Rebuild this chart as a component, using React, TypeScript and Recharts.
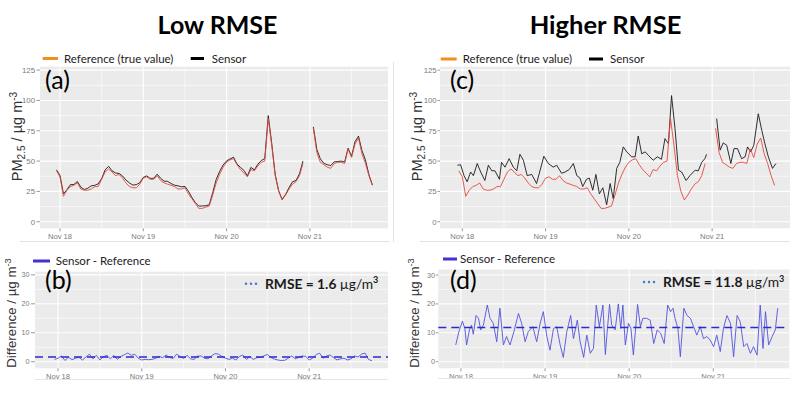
import React from 'react';
import { LineChart, Line, XAxis, YAxis, CartesianGrid, ReferenceLine } from 'recharts';

// ---------- data ----------
const hours = Array.from({ length: 92 }, (_, i) => i - 1); // hours since Nov 18 00:00
const dayTicks = [0, 24, 48, 72];
const dayLabels = ['Nov 18', 'Nov 19', 'Nov 20', 'Nov 21'];
const halfDayTicks = [12, 36, 60, 84];
const pmTicks = [0, 25, 50, 75, 100, 125];
const pmMinor = [12.5, 37.5, 62.5, 87.5, 112.5];
const diffTicks = [0, 10, 20, 30];
const diffMinor = [5, 15, 25];

const reference = [
  42, 37, 21, 26, 29, 30, 32, 27, 26, 26,
  27, 29, 29, 35, 41, 43.5, 41, 38, 39, 36,
  32, 29, 28, 28, 31, 36, 37, 35, 35, 38,
  34, 32, 31, 30, 29, 27, 27, 28, 23, 19,
  15, 11, 11, 12, 13, 22, 32, 39, 45, 49,
  51, 52, 47, 43, 40, 37, 43, 42, 46, 49,
  50, 85, 63, 38, 25, 18, 22, 27, 31, 33,
  38, 48, null, null, 77, 57, 49, 47, 45, 44,
  48, 49, 49, 48, 60, 53, 64, 69, 56, 48,
  38, 30,
];

const sensorLow = [
  42.8, 38.2, 23.0, 26.4, 30.6, 30.7, 33.2, 28.5, 26.6, 27.6,
  29.6, 30.0, 31.2, 35.6, 42.7, 45.7, 42.0, 40.2, 39.8, 37.8,
  34.4, 32.0, 30.2, 30.6, 32.2, 36.6, 37.8, 35.7, 35.8, 39.2,
  35.8, 33.4, 33.3, 31.5, 30.1, 29.6, 28.8, 29.1, 25.2, 20.0,
  15.8, 12.9, 13.0, 13.2, 14.0, 24.0, 34.8, 41.6, 46.8, 50.2,
  51.8, 53.2, 47.6, 44.8, 42.3, 37.8, 44.8, 42.8, 47.4, 50.5,
  52.0, 87.5, 64.5, 38.9, 25.6, 18.4, 22.5, 28.2, 33.0, 34.0,
  39.5, 50.0, null, null, 78.2, 59.5, 51.9, 48.2, 47.0, 46.3,
  49.4, 49.6, 50.0, 49.2, 60.6, 54.0, 66.0, 70.6, 58.6, 51.0,
  38.8, 30.3,
];

const diffLow = [
  0.8, 1.2, 2.0, 0.4, 1.6, 0.7, 1.2, 1.5, 0.6, 1.6,
  2.6, 1.0, 2.2, 0.6, 1.7, 2.2, 1.0, 2.2, 0.8, 1.8,
  2.4, 3.0, 2.2, 2.6, 1.2, 0.6, 0.8, 0.7, 0.8, 1.2,
  1.8, 1.4, 2.3, 1.5, 1.1, 2.6, 1.8, 1.1, 2.2, 1.0,
  0.8, 1.9, 2.0, 1.2, 1.0, 2.0, 2.8, 2.6, 1.8, 1.2,
  0.8, 1.2, 0.6, 1.8, 2.3, 0.8, 1.8, 0.8, 1.4, 1.5,
  2.0, 2.5, 1.5, 0.9, 0.6, 0.4, 0.5, 1.2, 2.0, 1.0,
  1.5, 2.0, 1.8, 0.6, 1.2, 2.5, 2.9, 1.2, 2.0, 2.3,
  1.4, 0.6, 1.0, 1.2, 0.6, 1.0, 2.0, 1.6, 2.6, 3.0,
  0.8, 0.3,
];

const sensorHighTimes = [
  -1.4, -0.5, 0.5, 1.4, 2.4, 3.2, 4.3, 5.3, 6.5, 7.5,
  8.5, 9.4, 10.7, 11.3, 12.3, 13.5, 14.7, 15.7, 16.6, 17.6,
  18.7, 20.0, 21.4, 23.5, 24.8, 26.2, 27.2, 28.6, 29.6, 30.8,
  32.0, 33.0, 33.9, 34.7, 35.8, 36.6, 37.6, 38.5, 39.5, 40.5,
  41.6, 42.6, 43.5, 44.5, 45.4, 46.4, 47.4, 48.8, 49.8, 50.7,
  51.7, 52.7, 53.6, 55.0, 56.2, 57.4, 58.4, 59.4, 60.3, 61.3,
  62.3, 63.2, 64.5, 65.6, 67.1, 68.0, 69.0, 69.9, 70.4, 71.8,
  73.3, 74.3, 75.2, 76.2, 77.4, 78.3, 79.3, 80.5, 81.5, 82.2,
  83.1, 84.0, 85.3, 86.3, 87.2, 88.2, 89.4, 90.4,
];
const sensorHighValues = [
  46.6, 47, 38, 33, 41, 38, 48, 41, 34, 46.6,
  42, 42, 35, 49, 45, 52, 45, 42, 55.6, 50.7,
  38, 39, 31.5, 54, 48, 45, 46.6, 40, 41, 43,
  48, 38, 36, 29, 35, 36, 26, 39, 23, 28,
  14, 31.5, 19, 44, 49, 61.7, 57.6, 53.5, 53.5, 70.7,
  56, 57.6, 54.8, 50.7, 53.5, 51.5, 68.5, 64.4, 104, 76.8,
  42.5, 41, 34, 38, 42.5, 42, 49, 52, 55.6, null,
  85, 59, 65, 63, 48, 60.3, 60.3, 52, 53.5, 61.7,
  57.6, 63, 89, 75.4, 64.4, 53.5, 44, 48,
];

const diffHighTimes = [
  -1.5, -0.6, 0.4, 1.1, 1.6, 2.4, 3.0, 3.5, 4.3, 5.0,
  5.6, 6.4, 7.5, 8.3, 9.2, 10.2, 11.1, 12.1, 13.0, 14.0,
  15.1, 16.4, 17.3, 18.3, 19.2, 20.5, 21.6, 22.6, 23.5, 24.5,
  25.4, 26.4, 27.3, 28.3, 29.2, 30.2, 31.3, 32.1, 33.2, 34.0,
  35.0, 35.9, 36.9, 37.8, 38.6, 39.5, 40.5, 41.2, 41.8, 42.4,
  43.0, 44.0, 44.9, 45.6, 46.2, 46.9, 47.8, 48.5, 49.2, 50.4,
  51.2, 51.9, 53.0, 54.0, 55.0, 56.0, 57.0, 58.0, 59.0, 59.8,
  60.5, 61.1, 61.9, 62.6, 63.6, 64.5, 65.5, 66.2, 67.3, 68.3,
  69.2, 70.2, 71.1, 72.1, 73.0, 74.0, 74.9, 75.9, 76.9, 77.8,
  78.8, 79.7, 80.7, 81.6, 82.6, 83.5, 84.5, 85.4, 86.2, 86.9,
  87.8, 88.8, 89.7, 90.4,
];
const diffHighValues = [
  5.8, 10.4, 14, 11.5, 5.8, 11, 12.7, 9.5, 16, 15,
  11, 12.7, 19.6, 15, 13.3, 6.9, 18.5, 5.8, 8.7, 5.8,
  10.4, 16.7, 13.3, 6.9, 10.4, 12.1, 6.9, 13.3, 17.3, 8.7,
  4, 11.5, 12.1, 5.8, 1.5, 10.4, 16, 8, 14.4, 6.9,
  1.5, 9.2, 2.9, 4.6, 19.6, 12.1, 19.6, 2.5, 11.5, 19.8,
  12.7, 11, 20, 11.5, 19.6, 5.8, 13.3, 11.5, 2.3, 19.8,
  12.1, 15, 15, 14.4, 6.3, 11, 9.8, 6.3, 19.6, 17.3,
  18.5, 15, 11.5, 1.7, 18.5, 16, 15, 12.7, 9.2, 12.1,
  8, 8.7, 7.5, 5.2, 9.2, 3.5, 11.5, 16, 13.3, 1.7,
  16, 13.8, 5.2, 6.3, 2.9, 5.2, 2.3, 19.6, 4.6, 17.3,
  5.8, 8.7, 11, 18.5,
];

const rmseLow = 1.6;
const rmseHigh = 11.8;

// ---------- helpers ----------
const pts = (ts: number[], vs: (number | null)[]) => ts.map((t, i) => ({ t, v: vs[i] }));
const refData = pts(hours, reference);
const sensorLowData = pts(hours, sensorLow);
const diffLowData = pts(hours, diffLow);
const sensorHighData = pts(sensorHighTimes, sensorHighValues);
const diffHighData = pts(diffHighTimes, diffHighValues);

const C_REF = '#e8473f';
const C_SENSOR = '#1a1a1a';
const C_DIFF = '#5252dc';
const C_DASH = '#2a2ad0';
const TICK_FONT = 'Liberation Sans, Arial, sans-serif';

type PanelProps = {
  left: number; top: number; width: number; height: number;
  mTop: number; mRight: number; yWidth: number; plotH: number;
  xDomain: [number, number]; yDomain: [number, number];
  yMajor: number[]; yMinor: number[];
  tickSizeY: number; tickMarginY: number; yFont: number;
  children: React.ReactNode;
};

function Panel(p: PanelProps) {
  const xh = p.height - p.mTop - p.plotH;
  return (
    <div style={{ position: 'absolute', left: p.left, top: p.top, width: p.width, height: p.height }}>
      <LineChart width={p.width} height={p.height} margin={{ top: p.mTop, right: p.mRight, bottom: 0, left: 0 }}>
        <CartesianGrid fill="#EBEBEB" fillOpacity={1} stroke="none" horizontal={false} vertical={false} />
        {p.yMinor.map((v) => (
          <ReferenceLine key={'ym' + v} y={v} stroke="#ffffff" strokeWidth={0.6} />
        ))}
        {halfDayTicks.map((v) => (
          <ReferenceLine key={'xm' + v} x={v} stroke="#ffffff" strokeWidth={0.6} />
        ))}
        {p.yMajor.map((v) => (
          <ReferenceLine key={'yM' + v} y={v} stroke="#ffffff" strokeWidth={1.1} />
        ))}
        {dayTicks.map((v) => (
          <ReferenceLine key={'xM' + v} x={v} stroke="#ffffff" strokeWidth={1.1} />
        ))}
        <XAxis
          type="number"
          dataKey="t"
          domain={p.xDomain}
          ticks={dayTicks}
          interval={0}
          allowDataOverflow
          tickFormatter={(v: number) => dayLabels[dayTicks.indexOf(v)] ?? ''}
          axisLine={false}
          tickLine={{ stroke: '#9a9a9a' }}
          tickSize={3}
          tickMargin={2}
          height={xh}
          tick={{ fontSize: 7.6, fill: '#7a7a7a', fontFamily: TICK_FONT }}
        />
        <YAxis
          type="number"
          domain={p.yDomain}
          ticks={p.yMajor}
          interval={0}
          allowDataOverflow
          axisLine={false}
          tickLine={{ stroke: '#9a9a9a' }}
          tickSize={p.tickSizeY}
          tickMargin={p.tickMarginY}
          width={p.yWidth}
          tick={{ fontSize: p.yFont, fill: '#7a7a7a', fontFamily: TICK_FONT }}
        />
        {p.children}
      </LineChart>
    </div>
  );
}

function YTitle({ cx, cy, size, main, sub, sup }: { cx: number; cy: number; size: number; main: string; sub?: string; sup: string }) {
  return (
    <text
      x={cx}
      y={cy}
      transform={`rotate(-90 ${cx} ${cy})`}
      textAnchor="middle"
      fontFamily={TICK_FONT}
      fontSize={size}
      fill="#333333"
    >
      {main}
      {sub ? <tspan fontSize={size * 0.7} dy={3}>{sub}</tspan> : null}
      <tspan dy={sub ? -3 : 0}>{' / µg m'}</tspan>
      <tspan fontSize={size * 0.7} dy={-5}>{sup}</tspan>
    </text>
  );
}

function Rmse({ x, y, dotX, dotY, value }: { x: number; y: number; dotX: number; dotY: number; value: number }) {
  return (
    <g>
      {[0, 5, 10].map((d) => (
        <circle key={d} cx={dotX + d} cy={dotY} r={1.25} fill="#4a78c8" />
      ))}
      <text x={x} y={y} fontFamily="Lato, sans-serif" fontSize={13.8} fontWeight={700} fill="#1a1a1a">
        {`RMSE = ${value} `}
        <tspan fontWeight={400}>µg/m</tspan>
        <tspan fontSize={9} dy={-5.5}>3</tspan>
      </text>
    </g>
  );
}

export default function App() {
  return (
    <div style={{ position: 'absolute', left: 0, top: 0, width: 800, height: 396, background: '#ffffff', overflow: 'hidden' }}>
      {/* (a) */}
      <Panel left={0} top={60} width={400} height={190} mTop={6.7} mRight={12} yWidth={40} plotH={161.6}
        xDomain={[-5.76, 94.5]} yDomain={[-5.4, 127.8]} yMajor={pmTicks} yMinor={pmMinor}
        tickSizeY={3.5} tickMarginY={1.5} yFont={7.8}>
        <Line data={sensorLowData} dataKey="v" type="linear" stroke={C_SENSOR} strokeWidth={0.9} dot={false} isAnimationActive={false} />
        <Line data={refData} dataKey="v" type="linear" stroke={C_REF} strokeWidth={0.9} dot={false} isAnimationActive={false} />
      </Panel>
      {/* (c) */}
      <Panel left={400} top={60} width={400} height={190} mTop={6.7} mRight={10} yWidth={40} plotH={161.6}
        xDomain={[-6.43, 94.44]} yDomain={[-5.4, 127.8]} yMajor={pmTicks} yMinor={pmMinor}
        tickSizeY={2.5} tickMarginY={0.8} yFont={7.8}>
        <Line data={sensorHighData} dataKey="v" type="linear" stroke={C_SENSOR} strokeWidth={0.9} dot={false} isAnimationActive={false} />
        <Line data={refData} dataKey="v" type="linear" stroke={C_REF} strokeWidth={0.9} dot={false} isAnimationActive={false} />
      </Panel>
      {/* (b) */}
      <Panel left={0} top={265} width={400} height={125} mTop={6.7} mRight={12} yWidth={35} plotH={96.6}
        xDomain={[-6.6, 94.6]} yDomain={[-2.28, 31.1]} yMajor={diffTicks} yMinor={diffMinor}
        tickSizeY={4} tickMarginY={1.5} yFont={7.2}>
        <Line data={diffLowData} dataKey="v" type="linear" stroke={C_DIFF} strokeWidth={0.9} dot={false} isAnimationActive={false} />
        <ReferenceLine y={rmseLow} stroke={C_DASH} strokeWidth={1.5} strokeDasharray="8 5" />
      </Panel>
      {/* (d) */}
      <Panel left={400} top={263} width={400} height={127} mTop={6.5} mRight={10.7} yWidth={38.3} plotH={98.8}
        xDomain={[-6.48, 93.7]} yDomain={[-2.28, 31.9]} yMajor={diffTicks} yMinor={diffMinor}
        tickSizeY={2.5} tickMarginY={0.8} yFont={7.2}>
        <Line data={diffHighData} dataKey="v" type="linear" stroke={C_DIFF} strokeWidth={0.9} dot={false} isAnimationActive={false} />
        <ReferenceLine y={rmseHigh} stroke={C_DASH} strokeWidth={1.5} strokeDasharray="8 5" />
      </Panel>

      <svg width={800} height={396} style={{ position: 'absolute', left: 0, top: 0, pointerEvents: 'none' }}>
        {/* faint frame lines */}
        <line x1={20} y1={241.5} x2={390} y2={241.5} stroke="#e2e2e2" strokeWidth={1} />
        <line x1={420} y1={241.5} x2={790} y2={241.5} stroke="#e2e2e2" strokeWidth={1} />
        <line x1={393.5} y1={62} x2={393.5} y2={242} stroke="#e2e2e2" strokeWidth={1} />
        <line x1={35} y1={379.5} x2={388} y2={379.5} stroke="#e6e6e6" strokeWidth={1} />
        <line x1={438} y1={378.5} x2={790} y2={378.5} stroke="#e6e6e6" strokeWidth={1} />

        {/* titles */}
        <text x={217.5} y={34} textAnchor="middle" fontFamily="Lato, sans-serif" fontWeight={700} fontSize={25} fill="#000">Low RMSE</text>
        <text x={605.5} y={34} textAnchor="middle" fontFamily="Lato, sans-serif" fontWeight={700} fontSize={25.5} fill="#000">Higher RMSE</text>

        {/* legends top */}
        <line x1={42.7} y1={58.5} x2={58} y2={58.5} stroke="#f28e1e" strokeWidth={3} />
        <text x={64} y={62.6} fontFamily="Lato, sans-serif" fontSize={11.5} fill="#222">Reference (true value)</text>
        <line x1={190.7} y1={58.5} x2={204} y2={58.5} stroke="#000" strokeWidth={3} />
        <text x={211.7} y={62.6} fontFamily="Lato, sans-serif" fontSize={11.5} fill="#222">Sensor</text>

        <line x1={440.7} y1={59} x2={456.7} y2={59} stroke="#f28e1e" strokeWidth={3} />
        <text x={462.7} y={63} fontFamily="Lato, sans-serif" fontSize={11.5} fill="#222">Reference (true value)</text>
        <line x1={589} y1={59} x2={603} y2={59} stroke="#000" strokeWidth={3} />
        <text x={610} y={63} fontFamily="Lato, sans-serif" fontSize={11.5} fill="#222">Sensor</text>

        {/* legends bottom */}
        <line x1={33} y1={261} x2={50} y2={261} stroke="#4433cc" strokeWidth={3} />
        <text x={55.7} y={265} fontFamily="Lato, sans-serif" fontSize={11.5} fill="#222">Sensor - Reference</text>
        <line x1={443} y1={259} x2={457} y2={259} stroke="#4433cc" strokeWidth={3} />
        <text x={460} y={263} fontFamily="Lato, sans-serif" fontSize={11.5} fill="#222">Sensor - Reference</text>

        {/* panel letters */}
        <text x={45} y={89} fontFamily="Lato, sans-serif" fontSize={25} fill="#000">(a)</text>
        <text x={450} y={89} fontFamily="Lato, sans-serif" fontSize={25} fill="#000">(c)</text>
        <text x={45} y={288.5} fontFamily="Lato, sans-serif" fontSize={25} fill="#000">(b)</text>
        <text x={450} y={288.5} fontFamily="Lato, sans-serif" fontSize={25} fill="#000">(d)</text>

        {/* axis titles */}
        <YTitle cx={21.5} cy={136.5} size={14.5} main="PM" sub="2.5" sup="-3" />
        <YTitle cx={421.5} cy={136.5} size={14.5} main="PM" sub="2.5" sup="-3" />
        <YTitle cx={15.5} cy={313} size={13.3} main="Difference" sup="-3" />
        <YTitle cx={418.5} cy={313} size={13.3} main="Difference" sup="-3" />

        {/* RMSE annotations */}
        <Rmse x={265} y={288.7} dotX={246} dotY={283.7} value={rmseLow} />
        <Rmse x={663} y={287} dotX={644} dotY={282} value={rmseHigh} />
      </svg>
    </div>
  );
}
